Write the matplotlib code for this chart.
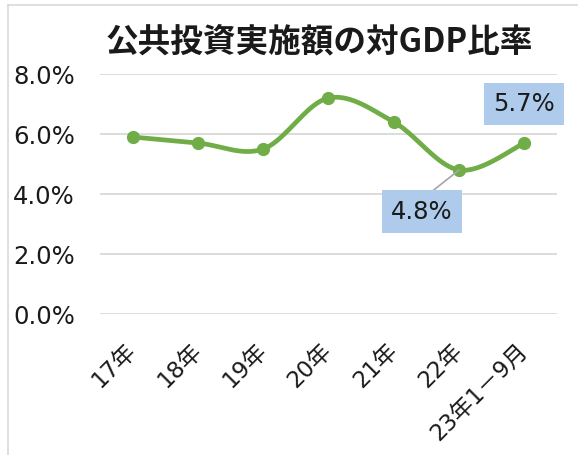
import matplotlib
matplotlib.use("Agg")
import matplotlib.pyplot as plt
import numpy as np
from matplotlib.lines import Line2D

categories = ["17年", "18年", "19年", "20年", "21年", "22年", "23年1－9月"]
values = [5.9, 5.7, 5.5, 7.2, 6.4, 4.8, 5.7]
labeled = {5: (-27, -30), 6: (0, 28)}
yticks = [0, 2, 4, 6, 8]
title = "公共投資実施額の対GDP比率"

W, H = 578, 455
fig = plt.figure(figsize=(W / 100, H / 100), dpi=100)
ax = fig.add_axes([100 / W, (H - 314) / H, 457 / W, 240 / H])

# frame of chart area
fig.add_artist(Line2D([8 / W, 1.0], [1 - 5 / H, 1 - 5 / H], color="#d9d9d9", lw=1.2, transform=fig.transFigure))
fig.add_artist(Line2D([8 / W, 8 / W], [0, 1 - 5 / H], color="#d9d9d9", lw=1.2, transform=fig.transFigure))

x = np.arange(len(values))
y = np.array(values, dtype=float)

# Excel-like smoothing (Catmull-Rom / Bezier)
pts = np.column_stack([x, y])
ext = np.vstack([pts[0], pts, pts[-1]])
curve = []
for i in range(len(pts) - 1):
    p0, p1, p2, p3 = ext[i], ext[i + 1], ext[i + 2], ext[i + 3]
    c1 = p1 + (p2 - p0) / 6
    c2 = p2 - (p3 - p1) / 6
    t = np.linspace(0, 1, 40)[:, None]
    seg = (1 - t) ** 3 * p1 + 3 * (1 - t) ** 2 * t * c1 + 3 * (1 - t) * t ** 2 * c2 + t ** 3 * p2
    curve.append(seg if i == 0 else seg[1:])
curve = np.vstack(curve)

green = "#70ad47"
ax.plot(curve[:, 0], curve[:, 1], color=green, lw=3.4, solid_capstyle="round", zorder=3)
ax.plot(x, y, "o", color=green, ms=8.5, zorder=4)

ax.set_xlim(-0.5, len(values) - 0.5)
ax.set_ylim(0, 8)
ax.set_yticks(yticks)
ax.set_yticklabels([f"{v:.1f}%" for v in yticks], fontsize=17.5, color="#1a1a1a", family="DejaVu Sans")
ax.set_xticks(x)
ax.set_xticklabels(categories, rotation=45, ha="right", va="center", rotation_mode="anchor",
                   fontsize=16.5, color="#1a1a1a", family=["DejaVu Sans", "Noto Sans CJK JP"])
ax.tick_params(axis="both", length=0)
ax.tick_params(axis="y", pad=18)
ax.tick_params(axis="x", pad=24)
ax.grid(axis="y", color="#d9d9d9", lw=1.3)
ax.set_axisbelow(True)
for s in ax.spines.values():
    s.set_visible(False)

for idx, (dx, dy) in labeled.items():
    ax.annotate(f"{values[idx]:.1f}%", xy=(x[idx], y[idx]), xytext=(dx, dy), textcoords="offset points",
                ha="center", va="center", fontsize=17.5, color="#1a1a1a", family="DejaVu Sans",
                bbox=dict(boxstyle="square,pad=0.38", fc="#aecbeb", ec="none"),
                arrowprops=dict(arrowstyle="-", color="#a6a6a6", lw=1.2, relpos=(0.5, 1.0), shrinkA=0, shrinkB=0)
                if dy < 0 else None, zorder=5)

fig.text(319 / W, 1 - 42 / H, title, ha="center", va="center", fontsize=23.5, fontweight="bold",
         family=["Noto Sans CJK JP", "DejaVu Sans"], color="#1a1a1a")

fig.savefig("out.png", dpi=100)
